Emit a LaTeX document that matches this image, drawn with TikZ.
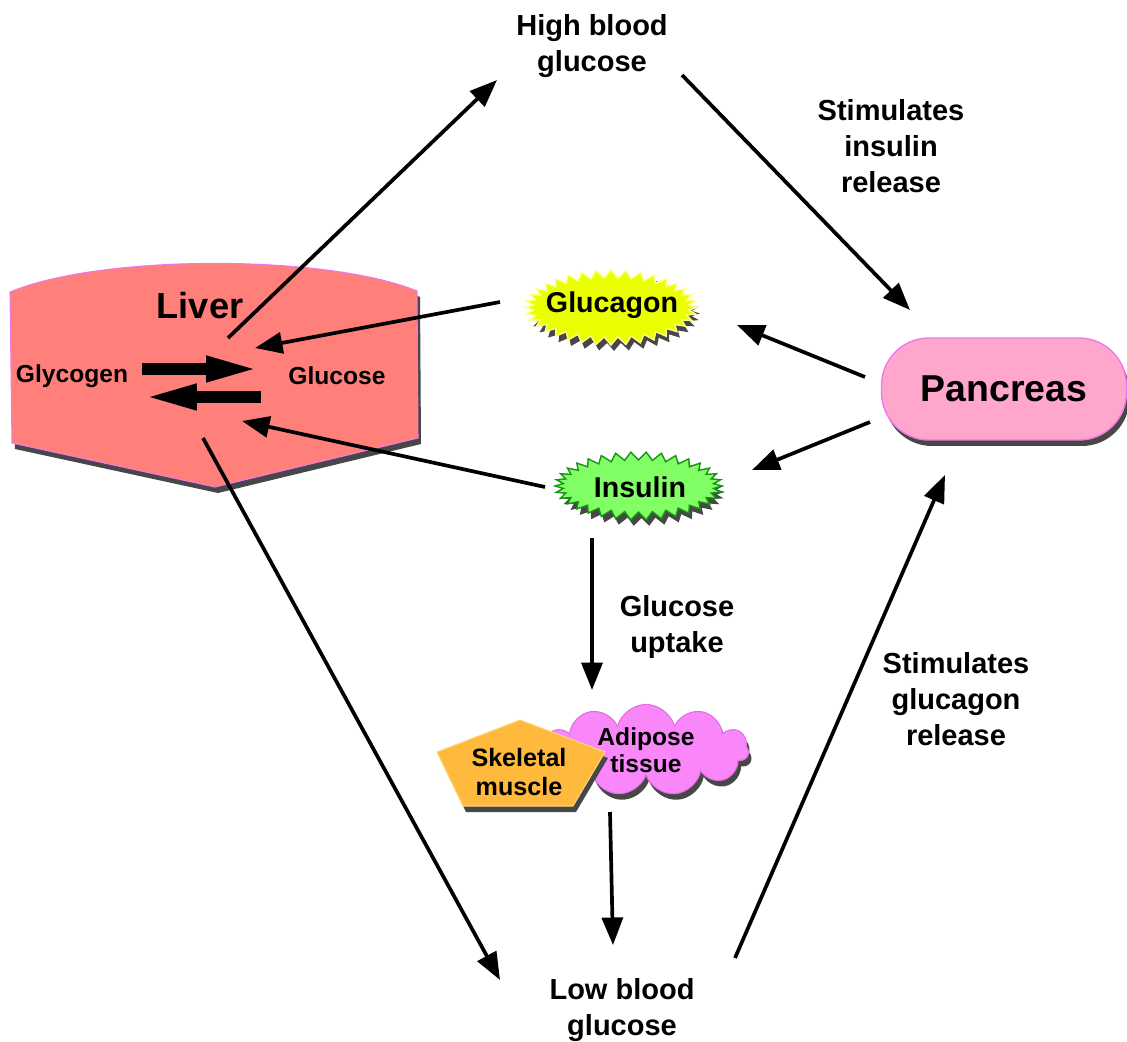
\documentclass[tikz,border=0pt]{standalone}
\usepackage{fontspec}
\setmainfont{Liberation Sans}
\definecolor{liverred}{RGB}{255,128,122}
\definecolor{organedge}{RGB}{240,120,235}
\definecolor{glucyellow}{RGB}{234,255,0}
\definecolor{glucedge}{RGB}{255,255,140}
\definecolor{insgreen}{RGB}{130,255,100}
\definecolor{insedge}{RGB}{20,150,20}
\definecolor{pancpink}{RGB}{255,166,204}
\definecolor{fatviolet}{RGB}{250,135,250}
\definecolor{fatedge}{RGB}{225,110,225}
\definecolor{muscleorange}{RGB}{255,185,60}
\definecolor{muscleedge}{RGB}{255,215,120}
\usetikzlibrary{arrows.meta,shapes.symbols,shadows}

\begin{document}
\begin{tikzpicture}[x=0.02cm, y=-0.02cm,
    darkshadow/.style={drop shadow={shadow xshift=0.06cm, shadow yshift=-0.12cm, fill=black!72, opacity=1}},
    caption/.style={align=center, inner sep=0pt, font=\fontsize{16.5}{20.5}\selectfont\bfseries},
    hormone/.style={font=\fontsize{16.3}{20}\selectfont\bfseries},
    arr/.style={line width=2.1pt, -{Triangle[length=0.55cm, width=0.42cm]}},
    fatarr/.style={line width=6.8pt, -{Triangle[length=1.1cm, width=0.46cm]}}]
  \useasboundingbox (0,0) rectangle (1127,1042);

  % liver
  \filldraw[fill=liverred, draw=organedge, line width=0.6pt, darkshadow]
    (10,292) .. controls (100,254) and (327,254) .. (417,291) -- (418,438) -- (215,487) -- (12,443) -- cycle;
  \node[font=\fontsize{20.6}{24}\selectfont\bfseries] (liver) at (200,306) {Liver};
  \node[font=\fontsize{14}{17}\selectfont\bfseries] (glyc) at (72,376) {Glycogen};
  \node[font=\fontsize{14}{17}\selectfont\bfseries] (gluc) at (337,376) {Glucose};
  \coordinate (glyc-e1) at (142,369); \coordinate (gluc-w1) at (261,369);
  \coordinate (glyc-e2) at (142,397); \coordinate (gluc-w2) at (261,397);
  \draw[fatarr] (glyc-e1) -- (gluc-w1);
  \draw[fatarr] (gluc-w2) -- (glyc-e2);

  % hormones and pancreas
  \filldraw[fill=glucyellow, draw=glucedge, line width=0.8pt, darkshadow]
    (697,307.5) \foreach \k in {1,...,71} {
      -- ({611+(82+4*cos(\k*180))*cos(\k*5)}, {307.5+(33.5+4*cos(\k*180))*sin(\k*5)}) } -- cycle;
  \node[hormone] (glucagon) at (612,305) {Glucagon};
  \filldraw[fill=insgreen, draw=insedge, line width=0.8pt, darkshadow]
    (722,486) \foreach \k in {1,...,67} {
      -- ({638.5+(79.5+4*cos(\k*180))*cos(\k*5.2941)}, {486+(30+4*cos(\k*180))*sin(\k*5.2941)}) } -- cycle;
  \node[hormone] (insulin) at (640,487) {Insulin};
  \node[fill=pancpink, draw=organedge, line width=0.8pt, rounded corners=0.95cm, darkshadow,
        minimum width=4.9cm, minimum height=2.04cm, font=\fontsize{21.3}{25}\selectfont\bfseries]
        (panc) at (1004,389) {Pancreas};

  % target tissues
  \node[cloud, cloud puffs=11, cloud ignores aspect, fill=fatviolet, draw=fatedge, line width=0.6pt,
        darkshadow, align=center, minimum width=4.1cm, minimum height=1.56cm, inner sep=0pt,
        font=\fontsize{14}{15.5}\selectfont\bfseries] (adipose) at (646,750) {Adipose\\tissue};
  \filldraw[fill=muscleorange, draw=muscleedge, line width=0.6pt, darkshadow]
    (520,720) -- (605,752) -- (573,806) -- (463,806) -- (437,752) -- cycle;
  \node[align=center, font=\fontsize{14.3}{16}\selectfont\bfseries] (muscle) at (519,772) {Skeletal\\muscle};

  % captions
  \node[caption] (high) at (592,46) {High blood\\glucose};
  \node[caption] (low) at (622,1010) {Low blood\\glucose};
  \node[caption] (insrel) at (891,146) {Stimulates\\insulin\\release};
  \node[caption] (glucrel) at (956,699) {Stimulates\\glucagon\\release};
  \node[caption] (uptake) at (677,627) {Glucose\\uptake};

  % connector ends
  \coordinate (liver-ne) at (228,338); \coordinate (liver-in1) at (255,348);
  \coordinate (liver-in2) at (242,421); \coordinate (liver-s) at (203,438);
  \coordinate (high-w) at (497,80);  \coordinate (high-e) at (682,75);
  \coordinate (panc-n) at (910,310); \coordinate (panc-w1) at (865,377);
  \coordinate (panc-w2) at (870,422); \coordinate (panc-s) at (945,475);
  \coordinate (glucagon-w) at (500,302); \coordinate (glucagon-e) at (737,325);
  \coordinate (insulin-w) at (545,487); \coordinate (insulin-e) at (752,470);
  \coordinate (insulin-s) at (592,538); \coordinate (tissue-n) at (592,690);
  \coordinate (tissue-s) at (610,812);
  \coordinate (low-n) at (613,945); \coordinate (low-w) at (500,980); \coordinate (low-e) at (735,958);

  \draw[arr] (liver-ne) -- (high-w);
  \draw[arr] (high-e) -- (panc-n);
  \draw[arr] (panc-w1) -- (glucagon-e);
  \draw[arr] (panc-w2) -- (insulin-e);
  \draw[arr] (glucagon-w) -- (liver-in1);
  \draw[arr] (insulin-w) -- (liver-in2);
  \draw[arr] (insulin-s) -- (tissue-n);
  \draw[arr] (tissue-s) -- (low-n);
  \draw[arr] (liver-s) -- (low-w);
  \draw[arr] (low-e) -- (panc-s);
\end{tikzpicture}
\end{document}
